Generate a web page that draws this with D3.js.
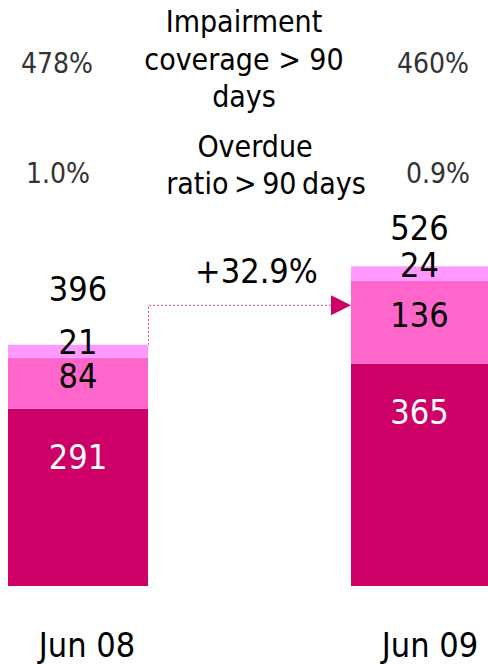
<!DOCTYPE html>
<html>
<head>
<meta charset="utf-8">
<script src="https://cdn.jsdelivr.net/npm/d3@7"></script>
<style>
  html, body { margin: 0; padding: 0; background: #fff; }
  svg { display: block; }
  text { font-family: "DejaVu Sans Condensed", "DejaVu Sans", sans-serif; font-stretch: condensed; }
</style>
</head>
<body>
<script>
// ---- data ----
const categories = ["Jun 08", "Jun 09"];
const seriesKeys = ["dark", "mid", "light"];
const darkValues = [291, 365];
const midValues = [84, 136];
const lightValues = [21, 24];
const totals = [396, 526];
const coverageLabels = ["478%", "460%"];
const overdueLabels = ["1.0%", "0.9%"];
const coverageTitle = ["Impairment", "coverage > 90", "days"];
const overdueTitle = ["Overdue", "ratio > 90 days"];
const growthLabel = "+32.9%";

// ---- layout ----
const W = 488, H = 664;
const colors = { dark: "#CC0066", mid: "#FF66CC", light: "#FF99FF" };

const rows = categories.map((c, i) => ({
  cat: c, dark: darkValues[i], mid: midValues[i], light: lightValues[i]
}));
const stacked = d3.stack().keys(seriesKeys)(rows);

const svg = d3.select("body").append("svg").attr("width", W).attr("height", H);

const x = d3.scaleBand().domain(categories).range([8, 491]).paddingInner(0.5918).paddingOuter(0);
const y = d3.scaleLinear().domain([0, 526]).range([586, 265.7]);

// bars
svg.append("g").selectAll("g").data(stacked).join("g")
  .attr("fill", d => colors[d.key])
  .selectAll("rect").data(d => d).join("rect")
  .attr("x", d => x(d.data.cat))
  .attr("y", d => y(d[1]))
  .attr("width", x.bandwidth())
  .attr("height", d => y(d[0]) - y(d[1]));

const visCenter = c => (Math.max(x(c), 0) + Math.min(x(c) + x.bandwidth(), W)) / 2;

// segment labels
const labelG = svg.append("g").attr("text-anchor", "middle").style("font-size", "34px");
stacked.forEach(s => {
  labelG.selectAll(null).data(s).join("text")
    .attr("x", d => visCenter(d.data.cat))
    .attr("y", d => s.key === "dark" ? y(d[1]) + 60
                  : s.key === "light" ? (y(d[0]) + y(d[1])) / 2 + 3
                  : (y(d[0]) + y(d[1])) / 2 + 5)
    .attr("fill", s.key === "dark" ? "#fff" : "#000")
    .text(d => d.data[s.key]);
});

// totals
const totalOffsets = [-44, -26];
labelG.selectAll(null).data(totals).join("text")
  .attr("x", (d, i) => visCenter(categories[i]))
  .attr("y", (d, i) => y(d) + totalOffsets[i])
  .attr("fill", "#000")
  .text(d => d);

// category labels
svg.append("g").attr("text-anchor", "middle").style("font-size", "34px")
  .selectAll("text").data(categories).join("text")
  .attr("x", d => x(d) + x.bandwidth() / 2 + 9)
  .attr("y", 657)
  .attr("fill", "#000")
  .text(d => d);

// top metrics
const metricX = [57, 433];
svg.append("g").attr("text-anchor", "middle").style("font-size", "28px").attr("fill", "#333")
  .selectAll("text").data(coverageLabels).join("text")
  .attr("x", (d, i) => metricX[i]).attr("y", 73).text(d => d);
svg.append("g").attr("text-anchor", "middle").style("font-size", "28px").attr("fill", "#333")
  .selectAll("text").data(overdueLabels).join("text")
  .attr("x", (d, i) => metricX[i] + (i === 0 ? 1 : 5)).attr("y", 183).text(d => d);

svg.append("g").attr("text-anchor", "middle").style("font-size", "30px").attr("fill", "#000")
  .selectAll("text").data(coverageTitle).join("text")
  .attr("x", 244).attr("y", (d, i) => 32 + i * 37.5).text(d => d);
const ovG = svg.append("g").attr("text-anchor", "middle").style("font-size", "30px").attr("fill", "#000");
ovG.append("text").attr("x", 255).attr("y", 157).text(overdueTitle[0]);
ovG.append("text").attr("x", 266).attr("y", 193.5)
  .style("word-spacing", "-3px").text(overdueTitle[1]);

// growth arrow
const x1End = x(categories[0]) + x.bandwidth();
const x2Start = x(categories[1]);
const ay = y(d3.mean(totals));
svg.append("path")
  .attr("d", `M${x1End + 0.5},${y(totals[0])} V${ay} H${x2Start - 20}`)
  .attr("fill", "none").attr("stroke", "#E0479E").attr("stroke-width", 1)
  .attr("stroke-dasharray", "2,2");
svg.append("path")
  .attr("d", `M${x2Start - 20},${ay - 10} L${x2Start},${ay} L${x2Start - 20},${ay + 10} Z`)
  .attr("fill", colors.dark);
svg.append("text").attr("text-anchor", "middle").style("font-size", "34px").attr("fill", "#000")
  .attr("x", (x1End + x2Start) / 2 + 7).attr("y", 283).text(growthLabel);
</script>
</body>
</html>
